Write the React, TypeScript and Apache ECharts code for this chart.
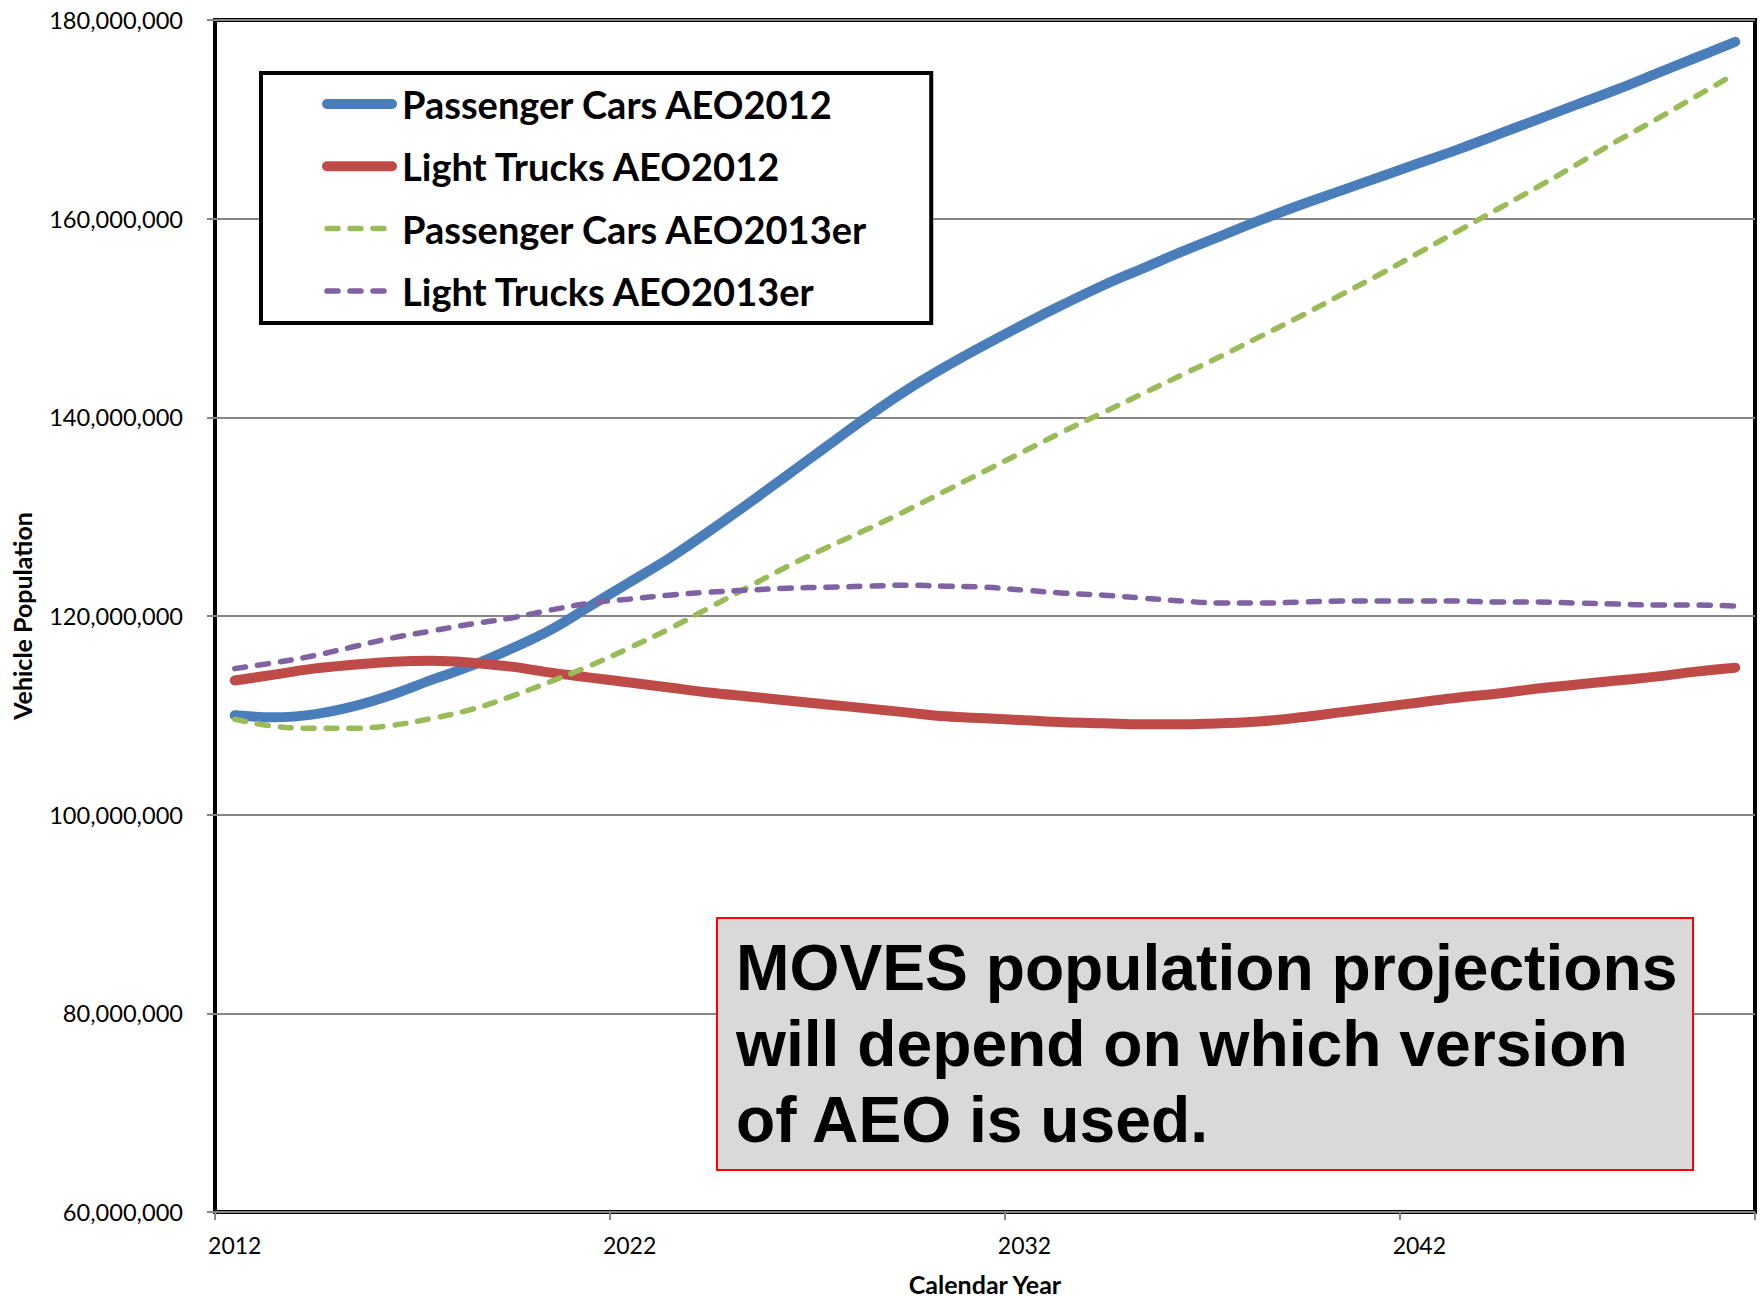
import React, { useEffect, useRef } from "react";
import * as echarts from "echarts";

const years = [
  "2012", "2013", "2014", "2015", "2016", "2017", "2018", "2019", "2020", "2021",
  "2022", "2023", "2024", "2025", "2026", "2027", "2028", "2029", "2030", "2031",
  "2032", "2033", "2034", "2035", "2036", "2037", "2038", "2039", "2040", "2041",
  "2042", "2043", "2044", "2045", "2046", "2047", "2048", "2049", "2050",
];

// values in millions of vehicles
const passengerCarsAEO2012 = [
  110.0, 109.8, 110.1, 110.9, 112.1, 113.6, 115.0, 116.7, 118.6, 121.0,
  123.4, 125.8, 128.5, 131.3, 134.2, 137.1, 140.0, 142.7, 145.1, 147.3,
  149.4, 151.4, 153.3, 155.0, 156.7, 158.3, 159.9, 161.4, 162.8, 164.2,
  165.6, 167.0, 168.5, 170.0, 171.5, 173.0, 174.6, 176.2, 177.8,
];
const lightTrucksAEO2012 = [
  113.5, 114.1, 114.7, 115.1, 115.4, 115.5, 115.3, 114.9, 114.3, 113.8,
  113.3, 112.8, 112.3, 111.9, 111.5, 111.1, 110.7, 110.3, 109.9, 109.7,
  109.5, 109.3, 109.2, 109.1, 109.1, 109.2, 109.4, 109.8, 110.3, 110.8,
  111.3, 111.8, 112.2, 112.7, 113.1, 113.5, 113.9, 114.4, 114.8,
];
const passengerCarsAEO2013er = [
  109.6, 108.9, 108.7, 108.7, 109.0, 109.7, 110.6, 111.9, 113.4, 115.0,
  116.8, 118.7, 120.8, 122.9, 125.0, 126.9, 128.7, 130.6, 132.6, 134.6,
  136.6, 138.6, 140.5, 142.4, 144.3, 146.2, 148.2, 150.2, 152.3, 154.4,
  156.6, 158.8, 161.0, 163.2, 165.5, 167.8, 170.0, 172.3, 174.6,
];
const lightTrucksAEO2013er = [
  114.7, 115.3, 116.0, 116.9, 117.8, 118.5, 119.2, 119.8, 120.6, 121.3,
  121.7, 122.1, 122.4, 122.6, 122.8, 122.9, 123.0, 123.1, 123.0, 122.9,
  122.6, 122.3, 122.1, 121.8, 121.5, 121.3, 121.3, 121.4, 121.5, 121.5,
  121.5, 121.5, 121.4, 121.4, 121.3, 121.2, 121.1, 121.1, 121.0,
];

const seriesNames = [
  "Passenger Cars AEO2012",
  "Light Trucks AEO2012",
  "Passenger Cars AEO2013er",
  "Light Trucks AEO2013er",
];
const seriesColors = ["#4a7ebb", "#be4b48", "#9bbb59", "#7f62a1"];

const noteLines = [
  "MOVES population projections",
  "will depend on which version",
  "of AEO is used.",
];

export default function App() {
  const ref = useRef<HTMLDivElement>(null);

  useEffect(() => {
    if (!ref.current) return;
    const chart = echarts.init(ref.current, undefined, { renderer: "svg" });

    const solid = (name: string, data: number[], color: string) => ({
      name,
      type: "line",
      data,
      smooth: 0.4,
      symbol: "none",
      showSymbol: false,
      lineStyle: { color, width: 10, cap: "round", join: "round" },
      itemStyle: { color },
    });
    const dashed = (name: string, data: number[], color: string) => ({
      name,
      type: "line",
      data,
      smooth: 0.4,
      symbol: "none",
      showSymbol: false,
      lineStyle: { color, width: 5.5, type: [11, 12], cap: "round", join: "round" },
      itemStyle: { color },
    });

    const option: any = {
      animation: false,
      backgroundColor: "#ffffff",
      grid: {
        left: 215,
        right: 9,
        top: 20,
        bottom: 85,
        show: true,
        borderColor: "#000000",
        borderWidth: 4,
        backgroundColor: "transparent",
        containLabel: false,
        outerBoundsMode: "none",
      },
      legend: {
        orient: "vertical",
        left: 261,
        top: 73,
        padding: [11, 63, 12, 61],
        itemWidth: 65,
        itemHeight: 20,
        itemGap: 22.3,
        borderColor: "#000000",
        borderWidth: 4,
        backgroundColor: "#ffffff",
        itemStyle: { opacity: 0 },
        textStyle: {
          fontFamily: "Lato",
          fontWeight: "bold",
          fontSize: 38,
          lineHeight: 40,
          color: "#000000",
          padding: [0, 0, 0, 5],
        },
        data: [
          { name: seriesNames[0], lineStyle: { width: 10, cap: "round" } },
          { name: seriesNames[1], lineStyle: { width: 10, cap: "round" } },
          { name: seriesNames[2], lineStyle: { width: 5.5, cap: "round", type: [11, 12] } },
          { name: seriesNames[3], lineStyle: { width: 5.5, cap: "round", type: [11, 12] } },
        ],
      },
      xAxis: {
        type: "category",
        data: years,
        boundaryGap: true,
        name: "Calendar Year",
        nameLocation: "middle",
        nameGap: 60,
        nameTextStyle: {
          fontFamily: "Lato",
          fontWeight: "bold",
          fontSize: 25,
          lineHeight: 23,
          color: "#000000",
        },
        axisLine: { show: false },
        axisTick: {
          show: true,
          interval: 9,
          length: 8,
          lineStyle: { color: "#868686", width: 2 },
        },
        axisLabel: {
          interval: 9,
          margin: 21,
          fontFamily: "Lato",
          fontSize: 23,
          color: "#000000",
        },
        splitLine: { show: false },
      },
      yAxis: {
        type: "value",
        min: 60,
        max: 180,
        interval: 20,
        name: "Vehicle Population",
        nameLocation: "middle",
        nameGap: 181,
        nameTextStyle: {
          fontFamily: "Lato",
          fontWeight: "bold",
          fontSize: 25,
          color: "#000000",
        },
        axisLine: { show: false },
        axisTick: {
          show: true,
          length: 8,
          lineStyle: { color: "#868686", width: 2 },
        },
        axisLabel: {
          margin: 32,
          fontFamily: "Lato",
          fontSize: 23.6,
          color: "#000000",
          formatter: (v: number) => Math.round(v * 1000000).toLocaleString("en-US"),
        },
        splitLine: { show: true, lineStyle: { color: "#868686", width: 2 } },
      },
      series: [
        solid(seriesNames[0], passengerCarsAEO2012, seriesColors[0]),
        solid(seriesNames[1], lightTrucksAEO2012, seriesColors[1]),
        dashed(seriesNames[2], passengerCarsAEO2013er, seriesColors[2]),
        dashed(seriesNames[3], lightTrucksAEO2013er, seriesColors[3]),
      ],
      graphic: [
        {
          type: "rect",
          z: 100,
          shape: { x: 717, y: 918, width: 976, height: 252 },
          style: { fill: "#d9d9d9", stroke: "#ff0000", lineWidth: 2 },
        },
        ...noteLines.map((t, i) => ({
          type: "text",
          z: 101,
          x: 736,
          y: 968 + i * 76,
          style: {
            text: t,
            fill: "#000000",
            fontFamily: "Liberation Sans",
            fontWeight: "bold",
            fontSize: 64.2,
            verticalAlign: "middle",
            align: "left",
          },
        })),
      ],
    };

    chart.setOption(option);
    return () => chart.dispose();
  }, []);

  return (
    <div
      ref={ref}
      style={{ position: "fixed", left: 0, top: 0, width: 1764, height: 1297 }}
    />
  );
}
